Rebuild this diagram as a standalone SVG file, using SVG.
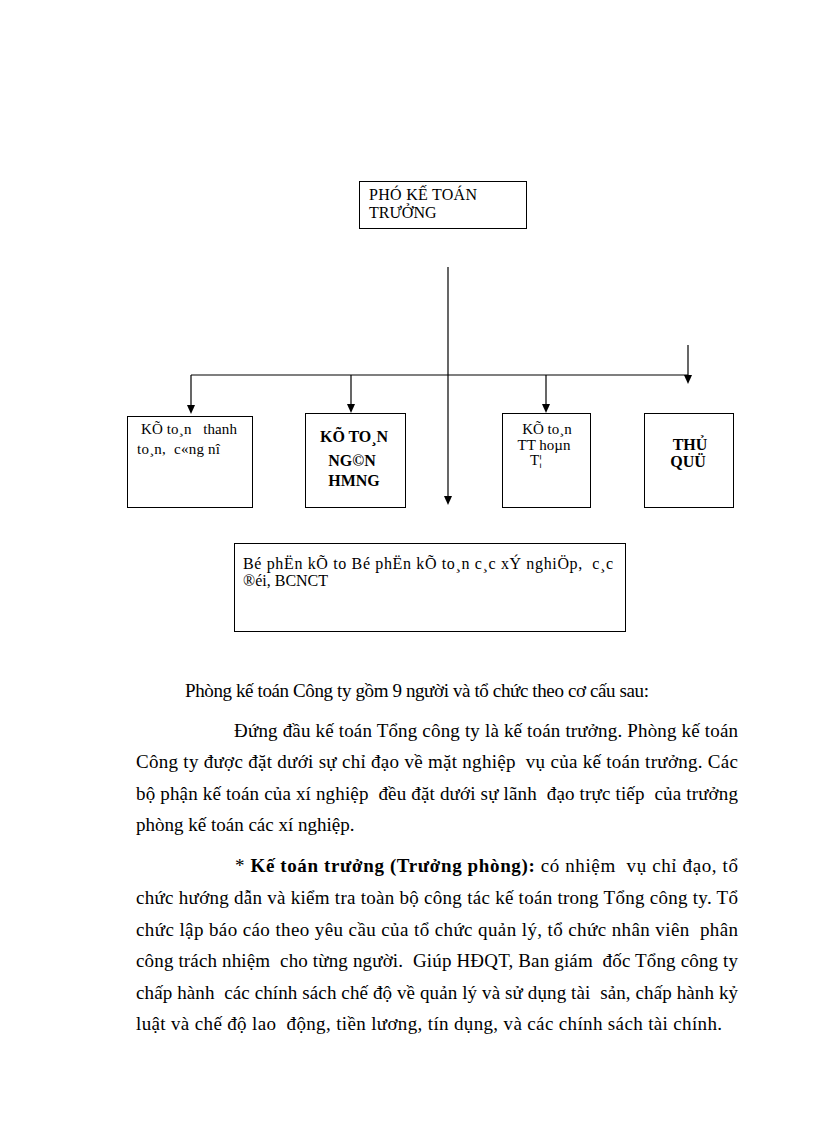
<svg xmlns="http://www.w3.org/2000/svg" width="816" height="1123" viewBox="0 0 816 1123">
<style>
.box{fill:#fff;stroke:#000;stroke-width:1}
.ln{fill:none;stroke:#000;stroke-width:1.2}
.t{font-family:"Liberation Serif","Times New Roman",serif;font-size:16px;fill:#000;white-space:pre}
.s15{font-size:15px}
.b{font-weight:bold}
.p{font-family:"Liberation Serif","Times New Roman",serif;font-size:19px;fill:#000;white-space:pre}
</style>
<rect width="816" height="1123" fill="#fff"/>

<g id="connectors">
<line class="ln" x1="448" y1="267" x2="448" y2="498"/>
<polygon points="444,496 452,496 448,505" fill="#000"/>
<line class="ln" x1="191" y1="375" x2="688" y2="375"/>
<line class="ln" x1="191" y1="375" x2="191" y2="406"/>
<polygon points="187,405 195,405 191,414" fill="#000"/>
<line class="ln" x1="351" y1="375" x2="351" y2="404"/>
<polygon points="347,404 355,404 351,413" fill="#000"/>
<line class="ln" x1="546" y1="375" x2="546" y2="404"/>
<polygon points="542,404 550,404 546,413" fill="#000"/>
<line class="ln" x1="688" y1="345" x2="688" y2="376"/>
<polygon points="684,375 692,375 688,384" fill="#000"/>
</g>

<g id="pho-ke-toan-truong">
<rect class="box" x="359.5" y="181.5" width="167" height="47"/>
<text class="t" x="369" y="200" textLength="108" lengthAdjust="spacing">PHÓ KẾ TOÁN</text>
<text class="t" x="369" y="218">TRƯỞNG</text>
</g>

<g id="ke-toan-thanh-toan">
<rect class="box" x="127.5" y="416.5" width="125" height="91"/>
<text class="t s15" x="141" y="434" textLength="96" lengthAdjust="spacing">KÕ to¸n   thanh</text>
<text class="t s15" x="137" y="454" textLength="83" lengthAdjust="spacing">to¸n,  c«ng nî</text>
</g>

<g id="ke-toan-ngan-hang">
<rect class="box" x="305.5" y="413.5" width="100" height="94"/>
<text class="t b" x="354" y="442" text-anchor="middle" textLength="68" lengthAdjust="spacing">KÕ TO¸N</text>
<text class="t b" x="352" y="466" text-anchor="middle">NG©N</text>
<text class="t b" x="354" y="486" text-anchor="middle">HMNG</text>
</g>

<g id="ke-toan-tt-hoan-tra">
<rect class="box" x="502.5" y="413.5" width="88" height="94"/>
<text class="t s15" x="547" y="434" text-anchor="middle">KÕ to¸n</text>
<text class="t s15" x="544" y="450" text-anchor="middle">TT hoµn</text>
<text class="t s15" x="536" y="465" text-anchor="middle">T¦</text>
</g>

<g id="thu-quy">
<rect class="box" x="644.5" y="413.5" width="89" height="94"/>
<text class="t b" x="690" y="450" text-anchor="middle">THỦ</text>
<text class="t b" x="688" y="467" text-anchor="middle">QUÜ</text>
</g>

<g id="bo-phan-ke-toan">
<rect class="box" x="234.5" y="543.5" width="391" height="88"/>
<text class="t" x="243" y="569" textLength="370" lengthAdjust="spacing">Bé phËn kÕ to Bé phËn kÕ to¸n c¸c xÝ nghiÖp,  c¸c</text>
<text class="t" x="243" y="586">®éi, BCNCT</text>
</g>

<g id="paragraphs">
<text class="p" x="185" y="697" textLength="464" lengthAdjust="spacing">Phòng kế toán Công ty gồm 9 người và tổ chức theo cơ cấu sau:</text>
<text class="p" x="234" y="737" textLength="504" lengthAdjust="spacing">Đứng đầu kế toán Tổng công ty là kế toán trưởng. Phòng kế toán</text>
<text class="p" x="136" y="768" textLength="602" lengthAdjust="spacing">Công ty được đặt dưới sự chỉ đạo về mặt nghiệp  vụ của kế toán trưởng. Các</text>
<text class="p" x="136" y="800" textLength="602" lengthAdjust="spacing">bộ phận kế toán của xí nghiệp  đều đặt dưới sự lãnh  đạo trực tiếp  của trưởng</text>
<text class="p" x="136" y="831">phòng kế toán các xí nghiệp.</text>
<text class="p" x="235" y="872" textLength="503" lengthAdjust="spacing">* <tspan font-weight="bold">Kế toán trưởng (Trưởng phòng):</tspan> có nhiệm  vụ chỉ đạo, tổ</text>
<text class="p" x="136" y="904" textLength="602" lengthAdjust="spacing">chức hướng dẫn và kiểm tra toàn bộ công tác kế toán trong Tổng công ty. Tổ</text>
<text class="p" x="136" y="936" textLength="602" lengthAdjust="spacing">chức lập báo cáo theo yêu cầu của tổ chức quản lý, tổ chức nhân viên  phân</text>
<text class="p" x="136" y="967" textLength="602" lengthAdjust="spacing">công trách nhiệm  cho từng người.  Giúp HĐQT, Ban giám  đốc Tổng công ty</text>
<text class="p" x="136" y="999" textLength="602" lengthAdjust="spacing">chấp hành  các chính sách chế độ về quản lý và sử dụng tài  sản, chấp hành kỷ</text>
<text class="p" x="136" y="1030" textLength="586" lengthAdjust="spacing">luật và chế độ lao  động, tiền lương, tín dụng, và các chính sách tài chính.</text>
</g>
</svg>
